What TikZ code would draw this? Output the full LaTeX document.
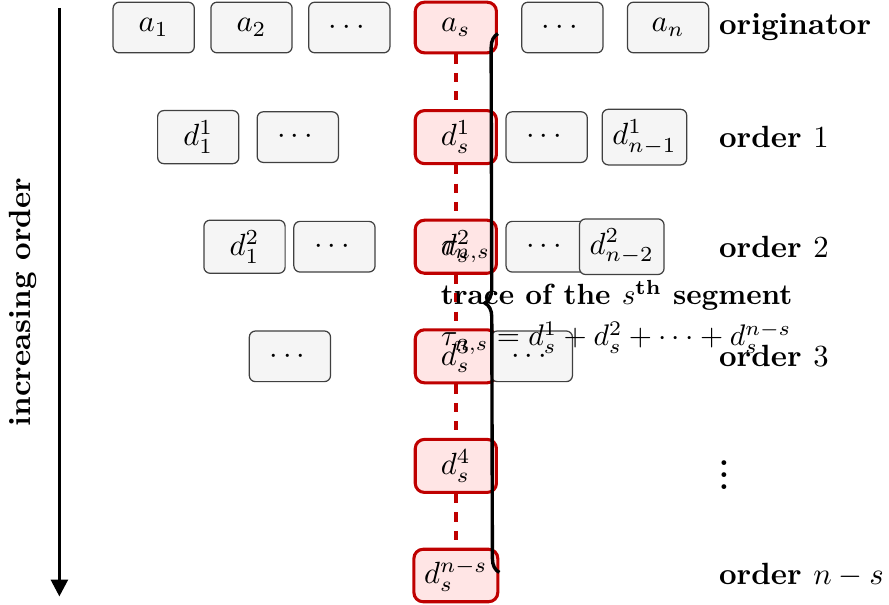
\documentclass[tikz,border=0pt]{standalone}
\usepackage{amsmath}
\usepackage{tikz}
\usetikzlibrary{arrows.meta,decorations.pathreplacing}

\begin{document}
\begin{tikzpicture}[x=1cm,y=1cm,
        cell/.style={draw=black!75, fill=black!4, rounded corners=2pt, minimum width=0.93cm, minimum height=0.58cm},
        seg/.style={cell, draw=red!75!black, fill=red!10, line width=1pt, rounded corners=3pt},
        lbl/.style={anchor=west, font=\bfseries}]
                \useasboundingbox (0,0) rectangle (10.18,-6.92);

                \coordinate (ordtop) at (0.68,-0.09);
                \coordinate (ordbot) at (0.68,-6.83);
                \draw[line width=1pt, -{Triangle[width=5.5pt,length=5.5pt]}] (ordtop) -- node[midway, rotate=90, above=3.5pt, font=\bfseries] (ordlbl) {increasing order} (ordbot);

                % originator
                \node[cell] (a1) at (1.76,-0.315) {$a_1$};
                \node[cell] (a2) at (2.88,-0.315) {$a_2$};
                \node[cell] (a3) at (4.00,-0.315) {$\cdots$};
                \node[seg] (as) at (5.22,-0.315) {$a_s$};
                \node[cell] (a5) at (6.44,-0.315) {$\cdots$};
                \node[cell] (an) at (7.65,-0.315) {$a_n$};
                \node[lbl] (l0) at (8.11,-0.315) {originator};

                % order 1
                \node[cell] (d11) at (2.27,-1.57) {$d_1^1$};
                \node[cell] (d12) at (3.41,-1.57) {$\cdots$};
                \node[seg] (ds1) at (5.22,-1.57) {$d_s^1$};
                \node[cell] (d14) at (6.26,-1.57) {$\cdots$};
                \node[cell] (d1n) at (7.38,-1.57) {$d_{n-1}^1$};
                \node[lbl] (l1) at (8.11,-1.57) {order $1$};

                % order 2
                \node[cell] (d21) at (2.80,-2.825) {$d_1^2$};
                \node[cell] (d22) at (3.83,-2.825) {$\cdots$};
                \node[seg] (ds2) at (5.22,-2.825) {$d_s^2$};
                \node[cell] (d24) at (6.26,-2.825) {$\cdots$};
                \node[cell] (d2n) at (7.12,-2.825) {$d_{n-2}^2$};
                \node[lbl] (l2) at (8.11,-2.825) {order $2$};

                % order 3
                \node[cell] (d31) at (3.32,-4.08) {$\cdots$};
                \node[seg] (ds3) at (5.22,-4.08) {$d_s^3$};
                \node[cell] (d33) at (6.09,-4.08) {$\cdots$};
                \node[lbl] (l3) at (8.11,-4.08) {order $3$};

                % order 4 .. n-s
                \node[seg] (ds4) at (5.22,-5.335) {$d_s^4$};
                \node[lbl] (l4) at (8.11,-5.335) {$\vdots$};
                \node[seg] (dsns) at (5.22,-6.59) {$d_s^{n-s}$};
                \node[lbl] (l5) at (8.11,-6.59) {order $n-s$};

                \draw[red!75!black, line width=1.1pt, dash pattern=on 3pt off 3pt] (as) -- (ds1) -- (ds2) -- (ds3) -- (ds4) -- (dsns);

                \draw[line width=1.1pt, decorate, decoration={brace, mirror, amplitude=4.5pt}] ([yshift=-2pt]as.east) -- ([yshift=1pt]dsns.east);

                \node[anchor=west] (tau) at (4.93,-2.887) {$\tau_{n,s}$};
                \node[anchor=west, font=\bfseries, scale=0.95] (trace) at (4.93,-3.38) {trace of the $s^{\text{th}}$ segment};
                \node[anchor=west, scale=0.97] (sum) at (4.93,-3.87) {$\tau_{n,s} = d_s^1 + d_s^2 + \cdots + d_s^{n-s}$};
            \end{tikzpicture}
\end{document}
